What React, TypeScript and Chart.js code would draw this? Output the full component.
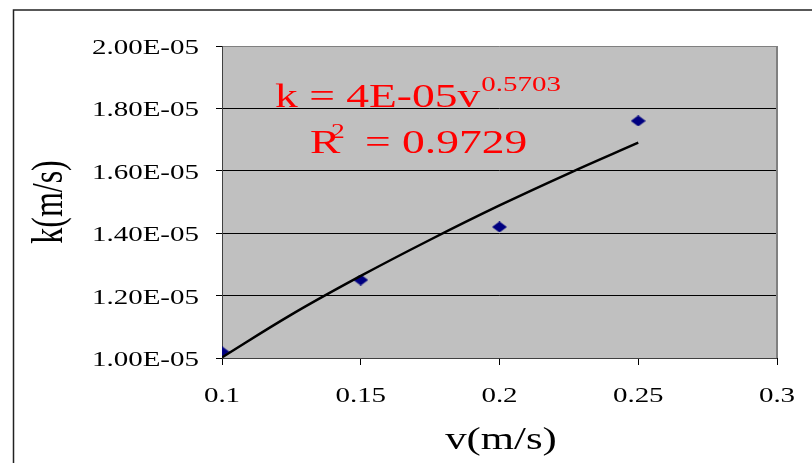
import React, { useEffect, useRef } from "react";
import { Chart, registerables } from "chart.js";

Chart.register(...registerables);

// ---- data ----
const V_DATA = [0.1, 0.15, 0.2, 0.25];
const K_DATA = [1.02e-5, 1.25e-5, 1.42e-5, 1.76e-5];
// points read along the drawn power trendline
const TREND_V = [0.1, 0.125, 0.15, 0.175, 0.2, 0.225, 0.25];
const TREND_K = [1.002e-5, 1.139e-5, 1.263e-5, 1.379e-5, 1.489e-5, 1.592e-5, 1.69e-5];

const X_TICKS = [0.1, 0.15, 0.2, 0.25, 0.3];
const X_TICK_LABELS = ["0.1", "0.15", "0.2", "0.25", "0.3"];
const Y_TICKS = [1.0e-5, 1.2e-5, 1.4e-5, 1.6e-5, 1.8e-5, 2.0e-5];
const Y_TICK_LABELS = ["1.00E-05", "1.20E-05", "1.40E-05", "1.60E-05", "1.80E-05", "2.00E-05"];

const X_TITLE = "v(m/s)";
const Y_TITLE = "k(m/s)";
const EQ_MAIN = "k = 4E-05v";
const EQ_EXP = "0.5703";
const R2_BASE = "R";
const R2_SUP = "2";
const R2_VALUE = "= 0.9729";

const SERIF = '"Liberation Serif", "Times New Roman", serif';
const SX = 1.38; // horizontal stretch of the original picture

function stretchedText(
  ctx: CanvasRenderingContext2D,
  text: string,
  x: number,
  y: number,
  size: number,
  color: string,
  align: CanvasTextAlign = "left"
) {
  ctx.save();
  ctx.translate(x, y);
  ctx.scale(SX, 1);
  ctx.font = `${size}px ${SERIF}`;
  ctx.fillStyle = color;
  ctx.textAlign = align;
  ctx.textBaseline = "alphabetic";
  ctx.fillText(text, 0, 0);
  const w = ctx.measureText(text).width * SX;
  ctx.restore();
  return w;
}

const decorPlugin = {
  id: "decor",
  beforeDraw(chart: any) {
    const { ctx, chartArea: a } = chart;
    ctx.save();
    // outer frame
    ctx.strokeStyle = "#222";
    ctx.lineWidth = 1.5;
    ctx.beginPath();
    ctx.moveTo(13.5, 463);
    ctx.lineTo(13.5, 10);
    ctx.lineTo(812, 10);
    ctx.stroke();
    // plot background
    ctx.fillStyle = "#C0C0C0";
    ctx.fillRect(a.left, a.top, a.right - a.left, a.bottom - a.top);
    ctx.restore();
  },
  beforeDatasetsDraw(chart: any) {
    const { ctx, chartArea: a } = chart;
    ctx.save();
    ctx.strokeStyle = "#808080";
    ctx.lineWidth = 1;
    ctx.beginPath();
    ctx.moveTo(a.left, a.top + 0.5);
    ctx.lineTo(a.right, a.top + 0.5);
    ctx.stroke();
    ctx.lineWidth = 2;
    ctx.beginPath();
    ctx.moveTo(a.right, a.top);
    ctx.lineTo(a.right, a.bottom);
    ctx.stroke();
    ctx.strokeStyle = "#404040";
    ctx.lineWidth = 1;
    ctx.beginPath();
    ctx.moveTo(a.left + 0.5, a.top);
    ctx.lineTo(a.left + 0.5, a.bottom + 0.5);
    ctx.lineTo(a.right, a.bottom + 0.5);
    ctx.stroke();
    ctx.restore();
  },
  afterDraw(chart: any) {
    const { ctx } = chart;
    const xs = chart.scales.x;
    const ys = chart.scales.y;
    // y tick labels
    Y_TICKS.forEach((v, i) => {
      const py = ys.getPixelForValue(v);
      stretchedText(ctx, Y_TICK_LABELS[i], 199, py + 8, 21, "#000", "right");
    });
    // x tick labels
    X_TICKS.forEach((v, i) => {
      const px = xs.getPixelForValue(v);
      stretchedText(ctx, X_TICK_LABELS[i], px, 402, 21, "#000", "center");
    });
    // x title
    stretchedText(ctx, X_TITLE, 501, 449, 31, "#000", "center");
    // y title (rotated)
    ctx.save();
    ctx.translate(50, 202);
    ctx.rotate(-Math.PI / 2);
    ctx.scale(1, SX);
    ctx.font = `32px ${SERIF}`;
    ctx.fillStyle = "#000";
    ctx.textAlign = "center";
    ctx.textBaseline = "middle";
    ctx.fillText(Y_TITLE, 0, 0);
    ctx.restore();
    // trendline equation
    const red = "#FF0000";
    const w1 = stretchedText(ctx, EQ_MAIN, 275, 107, 33, red);
    stretchedText(ctx, EQ_EXP, 275 + w1 + 1, 91, 21, red);
    stretchedText(ctx, R2_BASE, 310, 153, 33, red);
    stretchedText(ctx, R2_SUP, 331, 138, 20, red);
    stretchedText(ctx, R2_VALUE, 365, 153, 33, red);
  },
};

export default function App() {
  const ref = useRef<HTMLCanvasElement | null>(null);

  useEffect(() => {
    document.body.style.margin = "0";
    const canvas = ref.current;
    if (!canvas) return;

    const diamond = document.createElement("canvas");
    diamond.width = 15;
    diamond.height = 11;
    const dctx = diamond.getContext("2d")!;
    dctx.fillStyle = "#000080";
    dctx.beginPath();
    dctx.moveTo(7.5, 0);
    dctx.lineTo(15, 5.5);
    dctx.lineTo(7.5, 11);
    dctx.lineTo(0, 5.5);
    dctx.closePath();
    dctx.fill();

    const chart = new Chart(canvas, {
      type: "scatter",
      data: {
        datasets: [
          {
            label: "trend",
            data: TREND_V.map((v, i) => ({ x: v, y: TREND_K[i] })),
            showLine: true,
            borderColor: "#000000",
            borderWidth: 2.5,
            pointRadius: 0,
            tension: 0.4,
            fill: false,
            order: 0,
          } as any,
          {
            label: "k",
            data: V_DATA.map((v, i) => ({ x: v, y: K_DATA[i] })),
            pointStyle: diamond as any,
            pointRadius: 7,
            backgroundColor: "#000080",
            borderColor: "#000080",
            showLine: false,
            order: 1,
          } as any,
        ],
      },
      options: {
        responsive: false,
        animation: false,
        devicePixelRatio: 1,
        layout: { padding: { left: 0, top: 46, right: 35, bottom: 0 } },
        plugins: { legend: { display: false }, tooltip: { enabled: false } },
        scales: {
          x: {
            type: "linear",
            min: 0.1,
            max: 0.3,
            afterBuildTicks: (s: any) => {
              s.ticks = X_TICKS.map((v) => ({ value: v }));
            },
            afterFit: (s: any) => {
              s.height = 105;
            },
            ticks: { display: false },
            grid: {
              drawOnChartArea: false,
              drawTicks: true,
              tickLength: 7,
              tickColor: "#000",
              color: "#000",
            },
            border: { display: false },
          },
          y: {
            type: "linear",
            min: 1.0e-5,
            max: 2.0e-5,
            afterBuildTicks: (s: any) => {
              s.ticks = Y_TICKS.map((v) => ({ value: v }));
            },
            afterFit: (s: any) => {
              s.width = 222;
            },
            ticks: { display: false },
            grid: {
              color: (c: any) =>
                c.index === 0 || c.index === Y_TICKS.length - 1 ? "rgba(0,0,0,0)" : "#000",
              tickColor: "#000",
              tickLength: 6,
              lineWidth: 1,
            },
            border: { display: false },
          },
        },
      },
      plugins: [decorPlugin],
    });

    return () => chart.destroy();
  }, []);

  return <canvas ref={ref} width={812} height={463} style={{ display: "block" }} />;
}
